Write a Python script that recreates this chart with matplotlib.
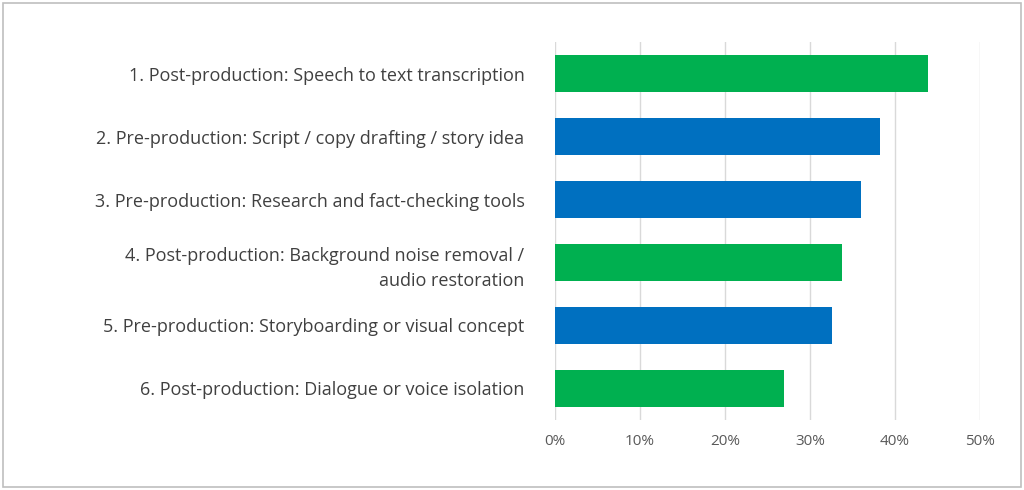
import matplotlib.pyplot as plt
from matplotlib.patches import Rectangle
from matplotlib.ticker import PercentFormatter

labels = ['1. Post-production: Speech to text transcription',
          '2. Pre-production: Script / copy drafting / story idea',
          '3. Pre-production: Research and fact-checking tools',
          '4. Post-production: Background noise removal /\naudio restoration',
          '5. Pre-production: Storyboarding or visual concept',
          '6. Post-production: Dialogue or voice isolation']
values = [43.9, 38.2, 36.0, 33.8, 32.6, 26.9]
stage = ['post', 'pre', 'pre', 'post', 'pre', 'post']
stage_colors = {'post': '#00B050', 'pre': '#0070C0'}

plt.rcParams['font.family'] = ['Open Sans', 'DejaVu Sans']
fig = plt.figure(figsize=(10.24, 4.9), dpi=100)
ax = fig.add_axes([0.542, 0.143, 0.415, 0.771])
y = list(range(len(labels)))
ax.barh(y, values, height=0.58, color=[stage_colors[s] for s in stage], zorder=3)
ax.set_ylim(5.5, -0.5)
ax.set_xlim(0, 50)
ax.set_xticks(range(0, 51, 10))
ax.xaxis.set_major_formatter(PercentFormatter(decimals=0))
ax.set_yticks(y)
ax.set_yticklabels(labels, fontsize=13, color='#404040', linespacing=1.5)
ax.tick_params(axis='x', labelsize=11, colors='#595959', length=0, pad=10)
ax.tick_params(axis='y', length=0, pad=22)
ax.grid(axis='x', color='#D9D9D9', lw=1, zorder=0)
for s in ax.spines.values():
    s.set_visible(False)
fig.patches.append(Rectangle((0.003, 0.006), 0.994, 0.988, transform=fig.transFigure,
                             fill=False, edgecolor='#BFBFBF', lw=1.2))
fig.savefig('out.png', dpi=100)
